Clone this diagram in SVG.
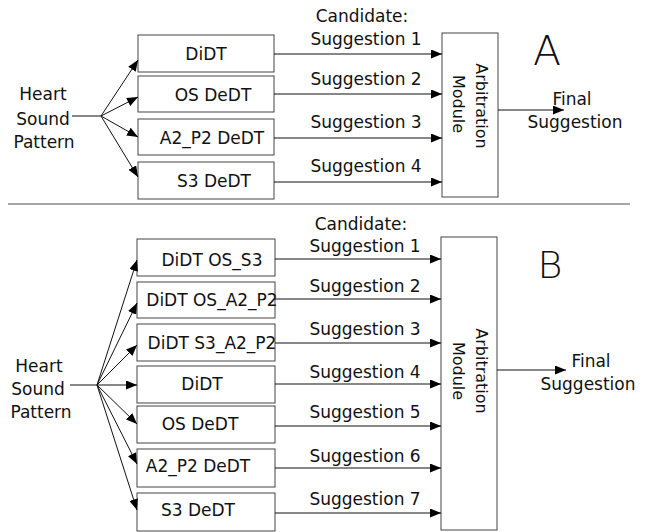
<svg xmlns="http://www.w3.org/2000/svg" width="647" height="532" viewBox="0 0 647 532">
<style>
text{font-family:"DejaVu Sans","Liberation Sans",sans-serif;font-size:17px;fill:#111}
.box{fill:#fff;stroke:#444;stroke-width:1}
.c{stroke:#111;stroke-width:1;fill:none}
.m{text-anchor:middle}
.arb{font-size:16px}
.big{font-family:"DejaVu Sans","Liberation Sans",sans-serif;font-weight:200}
</style>
<defs>
<marker id="ah" markerUnits="userSpaceOnUse" markerWidth="11" markerHeight="9" refX="11" refY="4.5" orient="auto">
<path d="M0,0 L11,4.5 L0,9 z" fill="#000"/>
</marker>
</defs>
<rect width="647" height="532" fill="#fff"/>
<line x1="8" y1="204" x2="630" y2="204" stroke="#888" stroke-width="1.5"/>

<!-- Section A -->
<g id="A-input"><text class="m" x="43" y="100">Heart</text><text class="m" x="43" y="125">Sound</text><text class="m" x="44" y="148">Pattern</text></g>
<g id="A-didt"><rect class="box" x="138" y="35" width="136" height="37"/><text class="m" x="206" y="60">DiDT</text></g>
<g id="A-os"><rect class="box" x="138" y="76" width="136" height="36"/><text class="m" x="213" y="101">OS DeDT</text></g>
<g id="A-a2p2"><rect class="box" x="138" y="119" width="136" height="36"/><text class="m" x="212" y="144">A2_P2 DeDT</text></g>
<g id="A-s3"><rect class="box" x="138" y="162" width="136" height="37"/><text class="m" x="214" y="187">S3 DeDT</text></g>
<g id="A-arb"><rect class="box" x="442" y="33" width="56" height="164"/>
<text class="m arb" transform="translate(476,106) rotate(90)">Arbitration</text>
<text class="m arb" transform="translate(453,104) rotate(90)">Module</text></g>
<g id="A-out"><text class="m" x="572" y="105">Final</text><text class="m" x="575" y="128">Suggestion</text></g>
<g id="A-label"><text class="m big" x="547" y="65" style="font-size:41px">A</text></g>
<g id="A-sugg">
<text class="m" x="362" y="22">Candidate:</text>
<text class="m" x="366" y="45">Suggestion 1</text>
<text class="m" x="366" y="85">Suggestion 2</text>
<text class="m" x="366" y="128">Suggestion 3</text>
<text class="m" x="366" y="172">Suggestion 4</text>
</g>
<g id="A-connectors">
<line class="c" x1="72" y1="116" x2="101" y2="116"/>
<line class="c" x1="101" y1="116" x2="138" y2="60" marker-end="url(#ah)"/>
<line class="c" x1="101" y1="116" x2="138" y2="97" marker-end="url(#ah)"/>
<line class="c" x1="101" y1="116" x2="138" y2="137" marker-end="url(#ah)"/>
<line class="c" x1="101" y1="116" x2="138" y2="177" marker-end="url(#ah)"/>
<line class="c" x1="274" y1="54" x2="442" y2="54" marker-end="url(#ah)"/>
<line class="c" x1="274" y1="94" x2="442" y2="94" marker-end="url(#ah)"/>
<line class="c" x1="274" y1="138" x2="442" y2="138" marker-end="url(#ah)"/>
<line class="c" x1="274" y1="182" x2="442" y2="182" marker-end="url(#ah)"/>
<line class="c" x1="498" y1="110" x2="564" y2="110" marker-end="url(#ah)"/>
</g>

<!-- Section B -->
<g id="B-input"><text class="m" x="39" y="372">Heart</text><text class="m" x="38" y="395">Sound</text><text class="m" x="41" y="418">Pattern</text></g>
<g id="B-didt-os-s3"><rect class="box" x="137" y="239" width="138" height="37"/><text class="m" x="212" y="266">DiDT OS_S3</text></g>
<g id="B-didt-os-a2p2"><rect class="box" x="137" y="282" width="138" height="36"/><text class="m" x="212" y="306">DiDT OS_A2_P2</text></g>
<g id="B-didt-s3-a2p2"><rect class="box" x="137" y="324" width="138" height="37"/><text class="m" x="212" y="349">DiDT S3_A2_P2</text></g>
<g id="B-didt"><rect class="box" x="137" y="366" width="138" height="37"/><text class="m" x="202" y="390">DiDT</text></g>
<g id="B-os"><rect class="box" x="137" y="406" width="138" height="37"/><text class="m" x="200" y="430">OS DeDT</text></g>
<g id="B-a2p2"><rect class="box" x="137" y="449" width="138" height="38"/><text class="m" x="198" y="472">A2_P2 DeDT</text></g>
<g id="B-s3"><rect class="box" x="137" y="493" width="138" height="38"/><text class="m" x="198" y="516">S3 DeDT</text></g>
<g id="B-arb"><rect class="box" x="441" y="237" width="56" height="293"/>
<text class="m arb" transform="translate(476,371) rotate(90)">Arbitration</text>
<text class="m arb" transform="translate(453,371) rotate(90)">Module</text></g>
<g id="B-out"><text class="m" x="591" y="367">Final</text><text class="m" x="588" y="390">Suggestion</text></g>
<g id="B-label"><text class="m big" x="550" y="278" style="font-size:38px">B</text></g>
<g id="B-sugg">
<text class="m" x="361" y="230">Candidate:</text>
<text class="m" x="365" y="252">Suggestion 1</text>
<text class="m" x="365" y="292">Suggestion 2</text>
<text class="m" x="365" y="335">Suggestion 3</text>
<text class="m" x="365" y="378">Suggestion 4</text>
<text class="m" x="365" y="418">Suggestion 5</text>
<text class="m" x="365" y="462">Suggestion 6</text>
<text class="m" x="365" y="505">Suggestion 7</text>
</g>
<g id="B-connectors">
<line class="c" x1="70" y1="385" x2="97" y2="385"/>
<line class="c" x1="97" y1="385" x2="137" y2="260" marker-end="url(#ah)"/>
<line class="c" x1="97" y1="385" x2="137" y2="303" marker-end="url(#ah)"/>
<line class="c" x1="97" y1="385" x2="137" y2="345" marker-end="url(#ah)"/>
<line class="c" x1="97" y1="385" x2="137" y2="385" marker-end="url(#ah)"/>
<line class="c" x1="97" y1="385" x2="137" y2="424" marker-end="url(#ah)"/>
<line class="c" x1="97" y1="385" x2="137" y2="464" marker-end="url(#ah)"/>
<line class="c" x1="97" y1="385" x2="137" y2="510" marker-end="url(#ah)"/>
<line class="c" x1="275" y1="259" x2="441" y2="259" marker-end="url(#ah)"/>
<line class="c" x1="275" y1="299" x2="441" y2="299" marker-end="url(#ah)"/>
<line class="c" x1="275" y1="343" x2="441" y2="343" marker-end="url(#ah)"/>
<line class="c" x1="275" y1="384" x2="441" y2="384" marker-end="url(#ah)"/>
<line class="c" x1="275" y1="426" x2="441" y2="426" marker-end="url(#ah)"/>
<line class="c" x1="275" y1="468" x2="441" y2="468" marker-end="url(#ah)"/>
<line class="c" x1="275" y1="513" x2="441" y2="513" marker-end="url(#ah)"/>
<line class="c" x1="497" y1="370" x2="566" y2="370" marker-end="url(#ah)"/>
</g>
</svg>
